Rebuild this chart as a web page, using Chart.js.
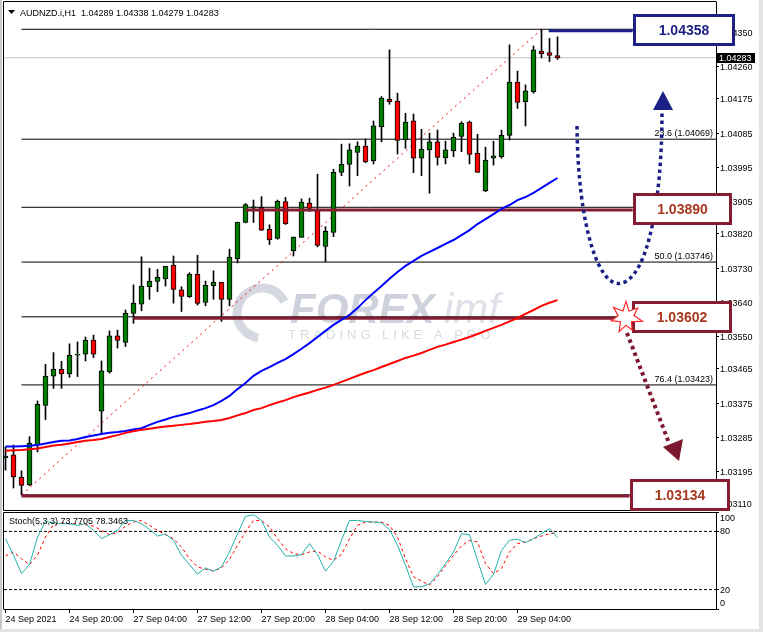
<!DOCTYPE html>
<html>
<head>
<meta charset="utf-8">
<title>AUDNZD H1</title>
<script src="https://cdn.jsdelivr.net/npm/chart.js@4.4.1/dist/chart.umd.min.js"></script>
<style>
  html, body { margin: 0; padding: 0; background: #fff; }
  #wrap { position: relative; width: 763px; height: 632px; background: #fff; overflow: hidden; }
  #main { position: absolute; left: 0; top: 0; }
  #stoch { position: absolute; left: 0; top: 511px; }
  #edgeL { position: absolute; left: 0; top: 0; width: 2px; height: 632px; background: #c8c8c8; }
  #edgeR { position: absolute; left: 759px; top: 0; width: 4px; height: 632px; background: #e4e4e4; }
  #edgeB { position: absolute; left: 0; top: 629px; width: 763px; height: 3px; background: #e4e4e4; }
</style>
</head>
<body>
<div id="wrap">
  <canvas id="main" width="763" height="511"></canvas>
  <canvas id="stoch" width="763" height="121"></canvas>
  <div id="edgeL"></div><div id="edgeR"></div><div id="edgeB"></div>
</div>
<script>
// AUDNZD.i H1 candles, 24 Sep 12:00 -> 29 Sep 09:00
const opens = [1.03231, 1.03239, 1.03180, 1.03160, 1.03265, 1.03369, 1.03446, 1.03464, 1.03452, 1.03501,
  1.03504, 1.03541, 1.03354, 1.03457, 1.03552, 1.03535, 1.03611, 1.03635, 1.03681, 1.03695,
  1.03702, 1.03738, 1.03673, 1.03655, 1.03714, 1.03640, 1.03684, 1.03693, 1.03648, 1.03755,
  1.03850, 1.03888, 1.03890, 1.03832, 1.03808, 1.03905, 1.03776, 1.03811, 1.03901, 1.03884,
  1.03787, 1.03824, 1.03982, 1.04003, 1.04034, 1.04051, 1.04012, 1.04102, 1.04174, 1.04169,
  1.04067, 1.04117, 1.04019, 1.04041, 1.04062, 1.04020, 1.04039, 1.04076, 1.04114, 1.04032,
  1.03934, 1.04019, 1.04023, 1.04079, 1.04219, 1.04168, 1.04194, 1.04301, 1.04297, 1.04289];
const highs = [1.03260, 1.03265, 1.03197, 1.03287, 1.03381, 1.03477, 1.03508, 1.03485, 1.03531, 1.03536,
  1.03549, 1.03554, 1.03486, 1.03565, 1.03567, 1.03620, 1.03686, 1.03760, 1.03730, 1.03727,
  1.03735, 1.03762, 1.03681, 1.03718, 1.03764, 1.03696, 1.03723, 1.03693, 1.03780, 1.03851,
  1.03900, 1.03909, 1.03918, 1.03844, 1.03909, 1.03916, 1.03812, 1.03912, 1.03914, 1.03977,
  1.03839, 1.03990, 1.04056, 1.04057, 1.04062, 1.04070, 1.04117, 1.04181, 1.04304, 1.04190,
  1.04137, 1.04135, 1.04095, 1.04085, 1.04093, 1.04064, 1.04085, 1.04115, 1.04117, 1.04082,
  1.04048, 1.04064, 1.04093, 1.04317, 1.04248, 1.04212, 1.04314, 1.04358, 1.04334, 1.04338];
const lows = [1.03199, 1.03152, 1.03134, 1.03158, 1.03247, 1.03332, 1.03414, 1.03414, 1.03443, 1.03445,
  1.03486, 1.03495, 1.03295, 1.03454, 1.03520, 1.03524, 1.03585, 1.03618, 1.03648, 1.03668,
  1.03683, 1.03638, 1.03616, 1.03653, 1.03633, 1.03631, 1.03648, 1.03590, 1.03631, 1.03744,
  1.03849, 1.03850, 1.03829, 1.03792, 1.03806, 1.03845, 1.03762, 1.03811, 1.03879, 1.03786,
  1.03747, 1.03813, 1.03973, 1.03946, 1.03973, 1.04007, 1.04004, 1.04062, 1.04161, 1.04030,
  1.04045, 1.03981, 1.03973, 1.03927, 1.04001, 1.04004, 1.04023, 1.04036, 1.04004, 1.03982,
  1.03931, 1.04001, 1.04019, 1.04067, 1.04150, 1.04104, 1.04190, 1.04283, 1.04273, 1.04279];
const closes = [1.03236, 1.03181, 1.03159, 1.03270, 1.03372, 1.03446, 1.03464, 1.03452, 1.03501, 1.03504,
  1.03541, 1.03504, 1.03460, 1.03552, 1.03540, 1.03611, 1.03638, 1.03683, 1.03696, 1.03706,
  1.03735, 1.03674, 1.03656, 1.03714, 1.03637, 1.03685, 1.03693, 1.03648, 1.03759, 1.03851,
  1.03897, 1.03891, 1.03830, 1.03804, 1.03906, 1.03846, 1.03812, 1.03904, 1.03887, 1.03790,
  1.03827, 1.03982, 1.04003, 1.04041, 1.04051, 1.04010, 1.04104, 1.04177, 1.04168, 1.04066,
  1.04114, 1.04019, 1.04043, 1.04062, 1.04021, 1.04041, 1.04074, 1.04111, 1.04029, 1.03982,
  1.04014, 1.04025, 1.04079, 1.04219, 1.04166, 1.04196, 1.04304, 1.04294, 1.04289, 1.04283];

// moving averages (blue = fast, red = slow)
const maFast = [1.03261, 1.03261, 1.03262, 1.03263, 1.03265, 1.03269, 1.03273, 1.03276, 1.03277, 1.03281,
  1.03286, 1.03290, 1.03294, 1.03297, 1.03299, 1.03302, 1.03306, 1.03309, 1.03318, 1.03326,
  1.03332, 1.03339, 1.03344, 1.03349, 1.03356, 1.03362, 1.03370, 1.03381, 1.03394, 1.03412,
  1.03428, 1.03447, 1.03460, 1.03470, 1.03481, 1.03491, 1.03504, 1.03518, 1.03533, 1.03549,
  1.03565, 1.03581, 1.03594, 1.03607, 1.03625, 1.03646, 1.03665, 1.03683, 1.03702, 1.03720,
  1.03736, 1.03749, 1.03762, 1.03773, 1.03783, 1.03794, 1.03804, 1.03817, 1.03830, 1.03846,
  1.03859, 1.03872, 1.03886, 1.03896, 1.03909, 1.03917, 1.03928, 1.03941, 1.03954, 1.03967];
const maSlow = [1.03250, 1.03251, 1.03252, 1.03254, 1.03256, 1.03260, 1.03264, 1.03266, 1.03269, 1.03273,
  1.03276, 1.03278, 1.03281, 1.03286, 1.03291, 1.03297, 1.03301, 1.03305, 1.03308, 1.03311,
  1.03314, 1.03316, 1.03318, 1.03320, 1.03323, 1.03326, 1.03328, 1.03331, 1.03336, 1.03343,
  1.03349, 1.03357, 1.03362, 1.03370, 1.03377, 1.03383, 1.03391, 1.03397, 1.03403, 1.03410,
  1.03416, 1.03423, 1.03431, 1.03439, 1.03447, 1.03455, 1.03462, 1.03470, 1.03478, 1.03486,
  1.03494, 1.03500, 1.03507, 1.03515, 1.03523, 1.03529, 1.03536, 1.03542, 1.03549, 1.03557,
  1.03565, 1.03573, 1.03581, 1.03590, 1.03599, 1.03610, 1.03620, 1.03631, 1.03639, 1.03646];

// Stochastic(5,3,3)
const stochK = [72.5, 55.4, 36.6, 45.8, 74.2, 90.3, 88.9, 87.9, 87.9, 86.2,
  87.9, 81.1, 72.5, 76.6, 81.1, 91.3, 91.3, 87.9, 82.1, 75.2,
  77.3, 70.8, 55.4, 45.8, 35.9, 42.4, 39.0, 43.4, 58.8, 77.6,
  95.5, 97.2, 91.3, 74.2, 65.6, 54.7, 54.7, 56.1, 67.4, 56.1,
  39.0, 49.2, 70.8, 91.3, 91.3, 90.3, 89.6, 88.9, 82.1, 65.6,
  45.1, 22.9, 22.9, 26.0, 35.6, 46.8, 58.8, 77.6, 76.6, 50.2,
  25.3, 35.6, 60.5, 70.8, 71.9, 68.4, 72.5, 77.6, 82.8, 73.7705];
const stochD = [54.7, 58.8, 51.9, 45.8, 55.4, 74.2, 86.9, 88.9, 87.9, 87.9,
  86.9, 85.5, 81.1, 76.6, 78.7, 85.5, 89.6, 91.3, 86.2, 81.1,
  76.6, 72.5, 63.9, 51.9, 43.4, 41.0, 39.0, 42.4, 51.3, 65.6,
  79.4, 91.3, 91.3, 84.5, 72.5, 62.2, 57.1, 56.1, 58.8, 59.8,
  53.7, 50.2, 56.1, 72.5, 86.2, 89.6, 89.6, 89.6, 86.2, 74.2,
  51.9, 33.2, 28.7, 24.6, 33.2, 44.5, 55.4, 65.0, 70.8, 69.1,
  46.8, 36.6, 41.7, 58.8, 67.4, 69.1, 72.5, 75.2, 77.6, 78.3463];
const stochLevels = [80, 20];
const stochTicks = [0, 20, 80, 100];

// axes
const timeLabels = ['24 Sep 2021', '24 Sep 20:00', '27 Sep 04:00', '27 Sep 12:00', '27 Sep 20:00',
  '28 Sep 04:00', '28 Sep 12:00', '28 Sep 20:00', '29 Sep 04:00'];
const timeTickIdx = [0, 8, 16, 24, 32, 40, 48, 56, 64];
const priceTicks = [1.03110, 1.03195, 1.03285, 1.03375, 1.03465, 1.03550, 1.03640, 1.03730,
  1.03820, 1.03905, 1.03995, 1.04085, 1.04175, 1.04260, 1.04350];

// fibonacci retracement 1.03134 -> 1.04358, anchored at bars 2 and 67
const fibAnchorIdx = [2, 67];
const fibAnchorPrice = [1.03134, 1.04358];
const fibPrices = [1.04358, 1.04069, 1.03890, 1.03746, 1.03602, 1.03423, 1.03134];
const fibTexts = ['', '23.6 (1.04069)', '', '50.0 (1.03746)', '', '76.4 (1.03423)', ''];

// marked levels with their boxes
const levelTexts = ['1.04358', '1.03890', '1.03602', '1.03134'];
const levelValues = [1.04354, 1.03883, 1.03598, 1.03131];
const levelStart = [67.9, 30, 16, 2];
const levelEnd = [78.4, 78.4, 78.3, 78.0];
const levelColors = ['#1c1f86', '#861b31', '#861b31', '#861b31'];

const xMin = -0.1875, xMax = 88.8125;
const FONT = '"Liberation Sans", Arial, sans-serif';
const font9 = { family: FONT, size: 9 };
const idx = opens.map((_, i) => i);
const bull = idx.map(i => closes[i] >= opens[i]);

function hLine(x0, x1, y, color, width, dash, order) {
  return {
    type: 'line', data: [{ x: x0, y: y }, { x: x1, y: y }],
    borderColor: color, borderWidth: width, borderDash: dash || [],
    pointRadius: 0, order: order
  };
}

const datasets = [];
datasets.push({
  type: 'bar', data: idx.map(i => ({ x: i, y: [lows[i], highs[i]] })),
  backgroundColor: '#000', borderWidth: 0, barThickness: 1, grouped: false, order: 5
});
datasets.push({
  type: 'bar', data: idx.map(i => ({ x: i, y: [opens[i], closes[i]] })),
  backgroundColor: idx.map(i => bull[i] ? '#008000' : '#ff0000'),
  borderColor: '#000', borderWidth: 1, borderSkipped: false,
  barThickness: 5, grouped: false, order: 4
});
fibPrices.forEach(p => datasets.push(hLine(fibAnchorIdx[0], xMax, p, '#000', 1, [], 8)));
datasets.push(hLine(xMin, xMax, closes[closes.length - 1], '#c0c0c0', 1, [], 9));
datasets.push({
  type: 'line',
  data: [{ x: fibAnchorIdx[0], y: fibAnchorPrice[0] }, { x: fibAnchorIdx[1], y: fibAnchorPrice[1] }],
  borderColor: '#ff0000', borderWidth: 1, borderDash: [2, 4], pointRadius: 0, order: 7
});
levelValues.forEach((v, i) => datasets.push(hLine(levelStart[i], levelEnd[i], v, levelColors[i], 3, [], 2)));
datasets.push({
  type: 'line', data: idx.map(i => ({ x: i, y: maSlow[i] })),
  borderColor: '#ff0000', borderWidth: 2, pointRadius: 0, order: 1
});
datasets.push({
  type: 'line', data: idx.map(i => ({ x: i, y: maFast[i] })),
  borderColor: '#0000ff', borderWidth: 2, pointRadius: 0, order: 1
});

function drawBox(ctx, x, yc, w, h, border, textColor, text) {
  ctx.fillStyle = '#fff';
  ctx.fillRect(x, yc - h / 2, w, h);
  ctx.lineWidth = 3;
  ctx.strokeStyle = border;
  ctx.strokeRect(x + 1.5, yc - h / 2 + 1.5, w - 3, h - 3);
  ctx.fillStyle = textColor;
  ctx.font = 'bold 14px ' + FONT;
  ctx.textAlign = 'center';
  ctx.textBaseline = 'middle';
  ctx.fillText(text, x + w / 2, yc + 1);
}

const mainDecor = {
  id: 'mainDecor',
  beforeDatasetsDraw(chart) {
    const ctx = chart.ctx;
    ctx.save();
    // watermark
    ctx.strokeStyle = '#d5d8e1';
    ctx.lineWidth = 9;
    ctx.beginPath();
    ctx.arc(262, 313, 25, 0.55 * Math.PI, 1.85 * Math.PI);
    ctx.stroke();
    ctx.fillStyle = '#cfd2dc';
    ctx.font = 'italic bold 42px ' + FONT;
    ctx.textBaseline = 'alphabetic';
    ctx.textAlign = 'left';
    ctx.fillText('FOREX', 290, 323);
    ctx.fillStyle = '#dfe1e8';
    ctx.font = 'italic 42px ' + FONT;
    ctx.fillText('imf', 444, 323);
    ctx.fillStyle = '#d8dae2';
    ctx.font = '13px ' + FONT;
    if ('letterSpacing' in ctx) ctx.letterSpacing = '4px';
    ctx.fillText('TRADING LIKE A PRO', 288, 339);
    ctx.restore();
  },
  afterDraw(chart) {
    const ctx = chart.ctx;
    const a = chart.chartArea;
    const xs = chart.scales.x, ys = chart.scales.y;
    ctx.save();
    // panel frame
    ctx.strokeStyle = '#000';
    ctx.lineWidth = 1;
    ctx.beginPath();
    ctx.moveTo(3.5, 1.5); ctx.lineTo(a.right + 0.5, 1.5);
    ctx.moveTo(3.5, 1.5); ctx.lineTo(3.5, a.bottom + 0.5);
    ctx.moveTo(3.5, a.bottom + 0.5); ctx.lineTo(a.right + 0.5, a.bottom + 0.5);
    ctx.stroke();

    // header
    ctx.fillStyle = '#000';
    ctx.beginPath();
    ctx.moveTo(8, 10); ctx.lineTo(15, 10); ctx.lineTo(11.5, 14); ctx.closePath();
    ctx.fill();
    ctx.font = '9px ' + FONT;
    ctx.textAlign = 'left';
    ctx.textBaseline = 'alphabetic';
    ctx.fillText('AUDNZD.i,H1  ' + opens[69].toFixed(5) + ' ' + highs[69].toFixed(5) + ' ' +
      lows[69].toFixed(5) + ' ' + closes[69].toFixed(5), 20, 15.5);

    // fibonacci level captions
    ctx.textAlign = 'right';
    fibPrices.forEach((p, i) => {
      if (fibTexts[i]) ctx.fillText(fibTexts[i], a.right - 3, ys.getPixelForValue(p) - 3);
    });

    // navy dotted forecast arrow
    ctx.setLineDash([3.5, 3.5]);
    ctx.lineWidth = 3.5;
    ctx.strokeStyle = '#1c1f86';
    ctx.beginPath();
    ctx.moveTo(577, 126);
    ctx.bezierCurveTo(578, 230, 600, 290, 622, 283);
    ctx.bezierCurveTo(648, 276, 662, 200, 662, 112);
    ctx.stroke();
    ctx.setLineDash([]);
    ctx.fillStyle = '#1c1f86';
    ctx.beginPath();
    ctx.moveTo(663, 91); ctx.lineTo(673, 110); ctx.lineTo(653, 110); ctx.closePath();
    ctx.fill();

    // maroon dotted arrow
    ctx.setLineDash([3.5, 3.5]);
    ctx.lineWidth = 4;
    ctx.strokeStyle = '#7e1830';
    ctx.beginPath();
    ctx.moveTo(627, 333); ctx.lineTo(669, 443);
    ctx.stroke();
    ctx.setLineDash([]);
    ctx.fillStyle = '#7e1830';
    ctx.beginPath();
    ctx.moveTo(663, 447); ctx.lineTo(683, 439); ctx.lineTo(679, 461); ctx.closePath();
    ctx.fill();

    // level boxes
    const boxW = [102, 99, 100, 100];
    levelValues.forEach((v, i) => {
      const x = Math.round(xs.getPixelForValue(levelEnd[i]));
      const c = i === 0 ? '#1c1f86' : '#a8391f';
      drawBox(ctx, x, Math.round(ys.getPixelForValue(v)) - 1, boxW[i], 32, levelColors[i], c, levelTexts[i]);
    });

    // burst marker on 1.03602
    const cy = ys.getPixelForValue(levelValues[2]) - 1, cx = 626;
    const rad = [16, 7, 15, 8, 17, 7, 14, 8, 16, 7, 15, 8, 16, 7];
    ctx.beginPath();
    rad.forEach((r, k) => {
      const ang = -Math.PI / 2 + k * 2 * Math.PI / rad.length;
      const px = cx + r * Math.cos(ang), py = cy + r * Math.sin(ang);
      if (k === 0) ctx.moveTo(px, py); else ctx.lineTo(px, py);
    });
    ctx.closePath();
    ctx.fillStyle = '#fff';
    ctx.fill();
    ctx.strokeStyle = '#ff2a2a';
    ctx.lineWidth = 1.2;
    ctx.stroke();

    // current price tag
    const last = closes[closes.length - 1];
    const ty = Math.round(ys.getPixelForValue(last));
    ctx.fillStyle = '#000';
    ctx.fillRect(a.right + 1, ty - 5, 38, 10);
    ctx.fillStyle = '#fff';
    ctx.font = '9px ' + FONT;
    ctx.textAlign = 'left';
    ctx.textBaseline = 'middle';
    ctx.fillText(last.toFixed(5), a.right + 3, ty + 0.5);
    ctx.restore();
  }
};

new Chart(document.getElementById('main').getContext('2d'), {
  type: 'bar',
  data: { datasets: datasets },
  options: {
    responsive: false,
    animation: false,
    devicePixelRatio: 1,
    layout: { padding: { left: 4, top: 2, right: 0, bottom: 1 } },
    plugins: { legend: { display: false }, tooltip: { enabled: false } },
    scales: {
      x: { type: 'linear', min: xMin, max: xMax, offset: false, display: false },
      y: {
        type: 'linear', position: 'right', min: 1.030942, max: 1.044297,
        afterFit: s => { s.width = 47; s.paddingTop = 0; s.paddingBottom = 0; },
        afterBuildTicks: s => { s.ticks = priceTicks.map(v => ({ value: v })); },
        ticks: { callback: v => v.toFixed(5), font: font9, color: '#000', padding: 1, labelOffset: 1 },
        grid: { drawOnChartArea: false, drawTicks: true, tickLength: 3, color: '#000' },
        border: { display: true, color: '#000' }
      }
    }
  },
  plugins: [mainDecor]
});

// Stochastic panel
const stochDecor = {
  id: 'stochDecor',
  afterDraw(chart) {
    const ctx = chart.ctx;
    const a = chart.chartArea;
    const ys = chart.scales.y;
    ctx.save();
    ctx.strokeStyle = '#000';
    ctx.lineWidth = 1;
    ctx.beginPath();
    ctx.moveTo(3.5, a.top + 0.5); ctx.lineTo(a.right + 0.5, a.top + 0.5);
    ctx.moveTo(3.5, a.top + 0.5); ctx.lineTo(3.5, a.bottom + 0.5);
    ctx.stroke();
    ctx.fillStyle = '#000';
    ctx.font = '9px ' + FONT;
    ctx.textAlign = 'left';
    ctx.textBaseline = 'alphabetic';
    ctx.fillText('Stoch(5,3,3) ' + stochK[stochK.length - 1].toFixed(4) + ' ' +
      stochD[stochD.length - 1].toFixed(4), 9, a.top + 11.5);
    ctx.textBaseline = 'middle';
    stochTicks.forEach(v => {
      const y = Math.min(Math.max(ys.getPixelForValue(v), a.top + 6), a.bottom - 6);
      ctx.fillText(String(v), a.right + 4, y + 0.5);
    });
    ctx.restore();
  }
};

new Chart(document.getElementById('stoch').getContext('2d'), {
  type: 'line',
  data: {
    datasets: [
      { data: idx.map(i => ({ x: i, y: stochK[i] })), borderColor: '#20b2aa', borderWidth: 1, pointRadius: 0, order: 1 },
      { data: idx.map(i => ({ x: i, y: stochD[i] })), borderColor: '#ff0000', borderWidth: 1, borderDash: [3, 3], pointRadius: 0, order: 2 },
      ...stochLevels.map(v => ({
        data: [{ x: xMin, y: v }, { x: xMax, y: v }], borderColor: '#000', borderWidth: 1,
        borderDash: [3, 2], pointRadius: 0, order: 3
      }))
    ]
  },
  options: {
    responsive: false,
    animation: false,
    devicePixelRatio: 1,
    layout: { padding: { left: 4, top: 1, right: 0, bottom: 0 } },
    plugins: { legend: { display: false }, tooltip: { enabled: false } },
    scales: {
      x: {
        type: 'linear', min: xMin, max: xMax, offset: false,
        afterFit: s => { s.height = 23; s.paddingLeft = 0; s.paddingRight = 0; },
        afterBuildTicks: s => { s.ticks = timeTickIdx.map(v => ({ value: v })); },
        ticks: {
          callback: (v, i) => timeLabels[i], align: 'start', maxRotation: 0, autoSkip: false,
          font: font9, color: '#000', padding: 1
        },
        grid: { drawOnChartArea: false, tickLength: 4, color: '#000' },
        border: { color: '#000' }
      },
      y: {
        type: 'linear', position: 'right', min: 0, max: 100,
        afterFit: s => { s.width = 47; s.paddingTop = 0; s.paddingBottom = 0; },
        afterBuildTicks: s => { s.ticks = stochTicks.map(v => ({ value: v })); },
        ticks: { display: false },
        grid: { drawOnChartArea: false, tickLength: 3, color: '#000' },
        border: { color: '#000' }
      }
    }
  },
  plugins: [stochDecor]
});
</script>
</body>
</html>
